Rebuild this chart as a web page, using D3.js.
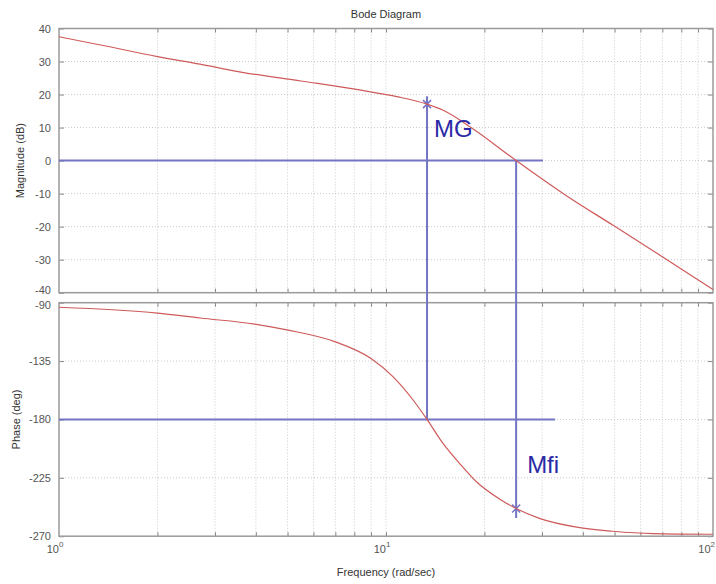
<!DOCTYPE html>
<html>
<head>
<meta charset="utf-8">
<script src="https://cdn.jsdelivr.net/npm/d3@7"></script>
<style>
body{margin:0;background:#fff;}
text{font-family:"Liberation Sans", Arial, sans-serif;}
</style>
</head>
<body>
<div id="chart"></div>
<script>
// values
let magFreq  = [1, 1.34, 2, 2.7, 3.6, 5.5, 8.3, 9.6, 11, 13.35, 14.9, 18.1, 25, 35.8, 49.5, 72.3, 100];
let magDb    = [37.5, 35, 31.5, 29.2, 26.8, 24.1, 21.4, 20.3, 19.2, 17.1, 15.3, 10.2, 0, -10.8, -19.6, -30.0, -39];

let phaseFreq = [1, 2, 2.7, 3.97, 4.98, 6.97, 9.0, 10.5, 12.1, 13.35, 14.94, 16.8, 18.9, 22.3, 25, 29.6, 38.3, 49.5, 65.5, 100];
let phaseDeg  = [-93.5, -98, -101.8, -106.5, -111, -120, -133, -147, -165, -180, -198.5, -214, -228, -241.5, -248.7, -256.4, -263, -266.2, -268, -268.5];

let magTicks   = [40, 30, 20, 10, 0, -10, -20, -30, -40];
let phaseTicks = [-90, -135, -180, -225, -270];
let decades    = [0, 1, 2];

// gain / phase margin construction
let mgFreq = 13.35, mgTopDb = 19.5, mgMarkDb = 17.1;
let mfiFreq = 25, mfiMarkDeg = -248.7, mfiBottomDeg = -256;
let zeroLineEnd = 30.2, phaseLineEnd = 32.9;

let width = 716, height = 584;
let left = 59, right = 713;
let magTop = 28.5, magBottom = 292.7;
let phTop = 302.7, phBottom = 536.2;

let svg = d3.select("#chart").append("svg")
    .attr("width", width)
    .attr("height", height)
    .style("background", "#fff");

let x = d3.scaleLog().domain([1, 100]).range([left, right]);
let yMag = d3.scaleLinear().domain([40, -40]).range([magTop, magBottom]);
let yPh = d3.scaleLinear().domain([-90, -270]).range([phTop, phBottom]);

let minor = [];
for(let d = 0; d < 2; d++){
    for(let k = 2; k < 10; k++){ minor.push(k*Math.pow(10, d)); }
}
let allX = minor.concat([10]);

let lineCol = "#7474c4";
let textCol = "#2a2aa6";
let curveCol = "#cf5a5a";

function panel(y, ticks, yTop, yBottom, nudge){
    let g = svg.append("g");
    // grid
    g.selectAll(".vgrid").data(allX).enter().append("line")
        .attr("x1", d => x(d)).attr("x2", d => x(d))
        .attr("y1", yTop).attr("y2", yBottom)
        .attr("stroke", "#cacaca").attr("stroke-width", 1)
        .style("stroke-dasharray", "1,2");
    g.selectAll(".hgrid").data(ticks.slice(1, -1)).enter().append("line")
        .attr("x1", left).attr("x2", right)
        .attr("y1", d => y(d)).attr("y2", d => y(d))
        .attr("stroke", "#cacaca").attr("stroke-width", 1)
        .style("stroke-dasharray", "1,2");
    // axes, ticks inward
    g.append("g").attr("transform", "translate(" + left + ",0)")
        .call(d3.axisLeft(y).tickValues(ticks).tickSize(-5).tickPadding(8).tickFormat(d => String(d)))
        .call(a => a.select(".domain").remove());
    g.append("g").attr("transform", "translate(" + right + ",0)")
        .call(d3.axisRight(y).tickValues(ticks).tickSize(-5).tickFormat(""))
        .call(a => a.select(".domain").remove());
    g.append("g").attr("transform", "translate(0," + yBottom + ")")
        .call(d3.axisBottom(x).tickValues(allX).tickSize(-4).tickFormat(""))
        .call(a => a.select(".domain").remove());
    g.append("g").attr("transform", "translate(0," + yTop + ")")
        .call(d3.axisTop(x).tickValues(allX).tickSize(-4).tickFormat(""))
        .call(a => a.select(".domain").remove());
    g.selectAll(".tick line").attr("stroke", "#888");
    g.selectAll(".tick text").attr("fill", "#555").attr("font-size", 11);
    nudge(g);
    g.append("rect")
        .attr("x", left).attr("y", yTop)
        .attr("width", right - left).attr("height", yBottom - yTop)
        .attr("fill", "none").attr("stroke", "#9a9a9a").attr("stroke-width", 1.5);
    return g;
}

// keep -40 and -90 apart where the two panels meet
panel(yMag, magTicks, magTop, magBottom, g => g.selectAll(".tick text").filter(d => d === -40).attr("dy", "0.1em"));
panel(yPh, phaseTicks, phTop, phBottom, g => g.selectAll(".tick text").filter(d => d === -90).attr("dy", "0.55em"));

// margin lines
let marks = svg.append("g");
marks.append("line")
    .attr("x1", x(1)).attr("x2", x(zeroLineEnd))
    .attr("y1", yMag(0)).attr("y2", yMag(0))
    .attr("stroke", lineCol).attr("stroke-width", 2);
marks.append("line")
    .attr("x1", x(1)).attr("x2", x(phaseLineEnd))
    .attr("y1", yPh(-180)).attr("y2", yPh(-180))
    .attr("stroke", lineCol).attr("stroke-width", 2);
marks.append("line")
    .attr("x1", x(mgFreq)).attr("x2", x(mgFreq))
    .attr("y1", yMag(mgTopDb)).attr("y2", yPh(-180))
    .attr("stroke", lineCol).attr("stroke-width", 2);
marks.append("line")
    .attr("x1", x(mfiFreq)).attr("x2", x(mfiFreq))
    .attr("y1", yMag(0)).attr("y2", yPh(mfiBottomDeg))
    .attr("stroke", lineCol).attr("stroke-width", 2);

// curves
let magLine = d3.line()
    .x(d => x(d[0])).y(d => yMag(d[1]))
    .curve(d3.curveMonotoneX);
let phLine = d3.line()
    .x(d => x(d[0])).y(d => yPh(d[1]))
    .curve(d3.curveMonotoneX);

svg.append("path")
    .attr("d", magLine(d3.zip(magFreq, magDb)))
    .attr("fill", "none").attr("stroke", curveCol).attr("stroke-width", 1.2);
svg.append("path")
    .attr("d", phLine(d3.zip(phaseFreq, phaseDeg)))
    .attr("fill", "none").attr("stroke", curveCol).attr("stroke-width", 1.2);

// x markers on the curves
function cross(cx, cy){
    marks.append("path")
        .attr("d", "M" + (cx-4) + "," + (cy-4) + "L" + (cx+4) + "," + (cy+4) + "M" + (cx+4) + "," + (cy-4) + "L" + (cx-4) + "," + (cy+4))
        .attr("stroke", lineCol).attr("stroke-width", 1.5);
}
cross(x(mgFreq), yMag(mgMarkDb));
cross(x(mfiFreq), yPh(mfiMarkDeg));

svg.append("text")
    .attr("x", x(mgFreq) + 7).attr("y", yMag(mgMarkDb) + 33)
    .attr("fill", textCol).attr("font-size", 24)
    .text("MG");
svg.append("text")
    .attr("x", x(mfiFreq) + 11).attr("y", yPh(-225) - 5)
    .attr("fill", textCol).attr("font-size", 24)
    .text("Mfi");

// x tick labels 10^n
let xl = svg.append("g").selectAll("text")
    .data(decades).enter()
    .append("text")
        .attr("x", d => d === 2 ? width - 1 : x(Math.pow(10, d)) - 4)
        .attr("y", phBottom + 17)
        .attr("text-anchor", d => d === 2 ? "end" : "middle")
        .attr("fill", "#555")
        .attr("font-size", 11)
        .text("10");
xl.append("tspan")
    .attr("dy", -6)
    .attr("font-size", 8)
    .text(d => d);

// titles
svg.append("text")
    .attr("x", (left + right)/2).attr("y", 18)
    .attr("text-anchor", "middle").attr("font-size", 11).attr("fill", "#333")
    .text("Bode Diagram");
svg.append("text")
    .attr("x", (left + right)/2).attr("y", 576)
    .attr("text-anchor", "middle").attr("font-size", 11).attr("fill", "#333")
    .text("Frequency  (rad/sec)");
svg.append("text")
    .attr("transform", "translate(24," + (magTop + magBottom)/2 + ") rotate(-90)")
    .attr("text-anchor", "middle").attr("font-size", 11).attr("fill", "#333")
    .text("Magnitude (dB)");
svg.append("text")
    .attr("transform", "translate(20," + (phTop + phBottom)/2 + ") rotate(-90)")
    .attr("text-anchor", "middle").attr("font-size", 11).attr("fill", "#333")
    .text("Phase (deg)");
</script>
</body>
</html>
